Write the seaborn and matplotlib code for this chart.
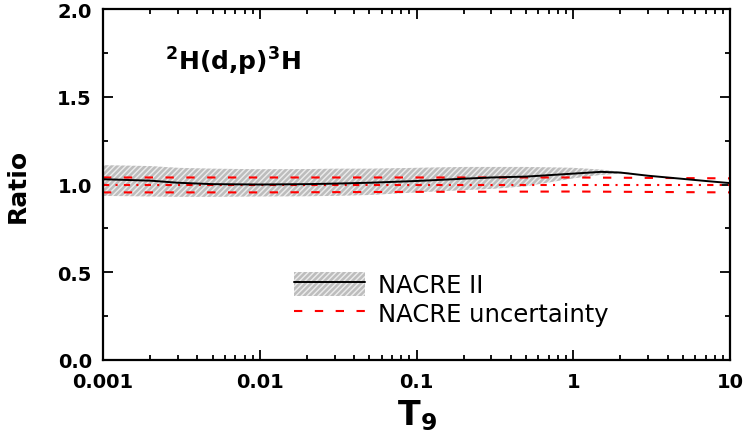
import matplotlib
matplotlib.use('Agg')
import matplotlib.pyplot as plt
import numpy as np
import pandas as pd
import seaborn as sns
from matplotlib.patches import Patch
from matplotlib.lines import Line2D
from matplotlib.ticker import LogLocator, MultipleLocator, FuncFormatter, NullFormatter

# 数据：NACRE II / NACRE 比值随 T9 的变化
t9 = [0.001, 0.002, 0.003, 0.005, 0.01, 0.02, 0.03, 0.05, 0.1, 0.2, 0.3, 0.5,
      1.0, 1.5, 2.0, 3.0, 5.0, 7.0, 10.0]
ratio = [1.030, 1.022, 1.010, 1.002, 1.000, 1.002, 1.005, 1.010, 1.020, 1.033,
         1.040, 1.045, 1.062, 1.072, 1.068, 1.050, 1.032, 1.020, 1.008]

# NACRE II 误差带（阴影）
band_t9 = [0.001, 0.002, 0.003, 0.005, 0.01, 0.02, 0.03, 0.05, 0.1, 0.2, 0.3,
           0.5, 1.0, 1.5, 2.0, 2.5]
band_lo = [0.935, 0.932, 0.930, 0.930, 0.932, 0.933, 0.935, 0.940, 0.955, 0.968,
           0.975, 0.990, 1.035, 1.055, 1.062, 1.062]
band_hi = [1.110, 1.105, 1.095, 1.090, 1.087, 1.088, 1.090, 1.090, 1.095, 1.100,
           1.100, 1.100, 1.095, 1.085, 1.072, 1.064]

# NACRE 不确定度（红色虚线）
nacre_t9 = [0.001, 0.01, 0.1, 1.0, 10.0]
nacre_hi = [1.040, 1.040, 1.040, 1.040, 1.035]
nacre_mid = [1.000, 1.000, 1.000, 1.000, 1.000]
nacre_lo = [0.955, 0.955, 0.958, 0.960, 0.955]

sns.set_theme(style='ticks')
plt.rcParams['font.family'] = ['DejaVu Sans']
plt.rcParams['hatch.linewidth'] = 1.8
for k in ['text.color', 'axes.labelcolor', 'xtick.color', 'ytick.color',
          'axes.edgecolor']:
    plt.rcParams[k] = 'black'

fig = plt.figure(figsize=(7.46, 4.39), dpi=100)
ax = fig.add_axes([103 / 746, 1 - 361 / 439, 627 / 746, 351 / 439])
ax.set_xscale('log')

# 阴影误差带
band_col = '#bdbdbd'
ax.fill_between(band_t9, band_lo, band_hi, facecolor='#ececec', edgecolor=band_col,
                hatch='//////', linewidth=0, zorder=1)

df_nacre = pd.DataFrame({'T9': nacre_t9, 'hi': nacre_hi, 'mid': nacre_mid, 'lo': nacre_lo})
dash = (0, (4, 6))
sns.lineplot(data=df_nacre, x='T9', y='hi', ax=ax, color='red', lw=1.5,
             linestyle=dash, zorder=2)
sns.lineplot(data=df_nacre, x='T9', y='lo', ax=ax, color='red', lw=1.5,
             linestyle=dash, zorder=2)
sns.lineplot(data=df_nacre, x='T9', y='mid', ax=ax, color='red', lw=1.5,
             linestyle=(0, (3, 3, 1, 3)), zorder=2)

df_ii = pd.DataFrame({'T9': t9, 'ratio': ratio})
sns.lineplot(data=df_ii, x='T9', y='ratio', ax=ax, color='black', lw=1.4, zorder=3)

ax.set_xlim(0.001, 10)
ax.set_ylim(0, 2.0)

# 坐标轴刻度
ax.xaxis.set_major_locator(LogLocator(base=10))
ax.xaxis.set_minor_locator(LogLocator(base=10, subs=np.arange(2, 10)))
ax.xaxis.set_major_formatter(FuncFormatter(lambda v, p: f'{v:g}'))
ax.xaxis.set_minor_formatter(NullFormatter())
ax.yaxis.set_major_locator(MultipleLocator(0.5))
ax.yaxis.set_minor_locator(MultipleLocator(0.25))
ax.yaxis.set_major_formatter(FuncFormatter(lambda v, p: f'{v:.1f}'))

ax.tick_params(which='both', direction='in', top=True, right=True, width=1.3,
               colors='black')
ax.tick_params(which='major', length=7, labelsize=14)
ax.tick_params(axis='x', which='major', pad=9)
ax.tick_params(axis='y', which='major', pad=8)
ax.tick_params(which='minor', length=3.5)
for lab in ax.get_xticklabels() + ax.get_yticklabels():
    lab.set_fontweight('bold')
for s in ax.spines.values():
    s.set_linewidth(1.6)
    s.set_color('black')

ax.set_xlabel(r'$\mathbf{T}_{\mathbf{9}}$', fontsize=24, labelpad=4)
ax.set_ylabel('Ratio', fontsize=18, fontweight='bold', labelpad=20)

ax.text(0.099, 0.852, r'$\mathbf{^{2}}$H(d,p)$\mathbf{^{3}}$H', transform=ax.transAxes,
        fontsize=18, fontweight='bold', va='center', ha='left')

handles = [(Patch(facecolor='#ececec', edgecolor=band_col, hatch='//////', lw=0),
            Line2D([], [], color='black', lw=1.4)),
           Line2D([], [], color='red', lw=1.5, linestyle=dash)]
ax.legend(handles, ['NACRE II', 'NACRE uncertainty'], loc='upper left',
          bbox_to_anchor=(0.305, 0.25), frameon=False, fontsize=17.5,
          handlelength=2.9, handleheight=1.1, handletextpad=0.55,
          labelspacing=0.15, borderpad=0, borderaxespad=0)

fig.savefig('out.png', dpi=100)
